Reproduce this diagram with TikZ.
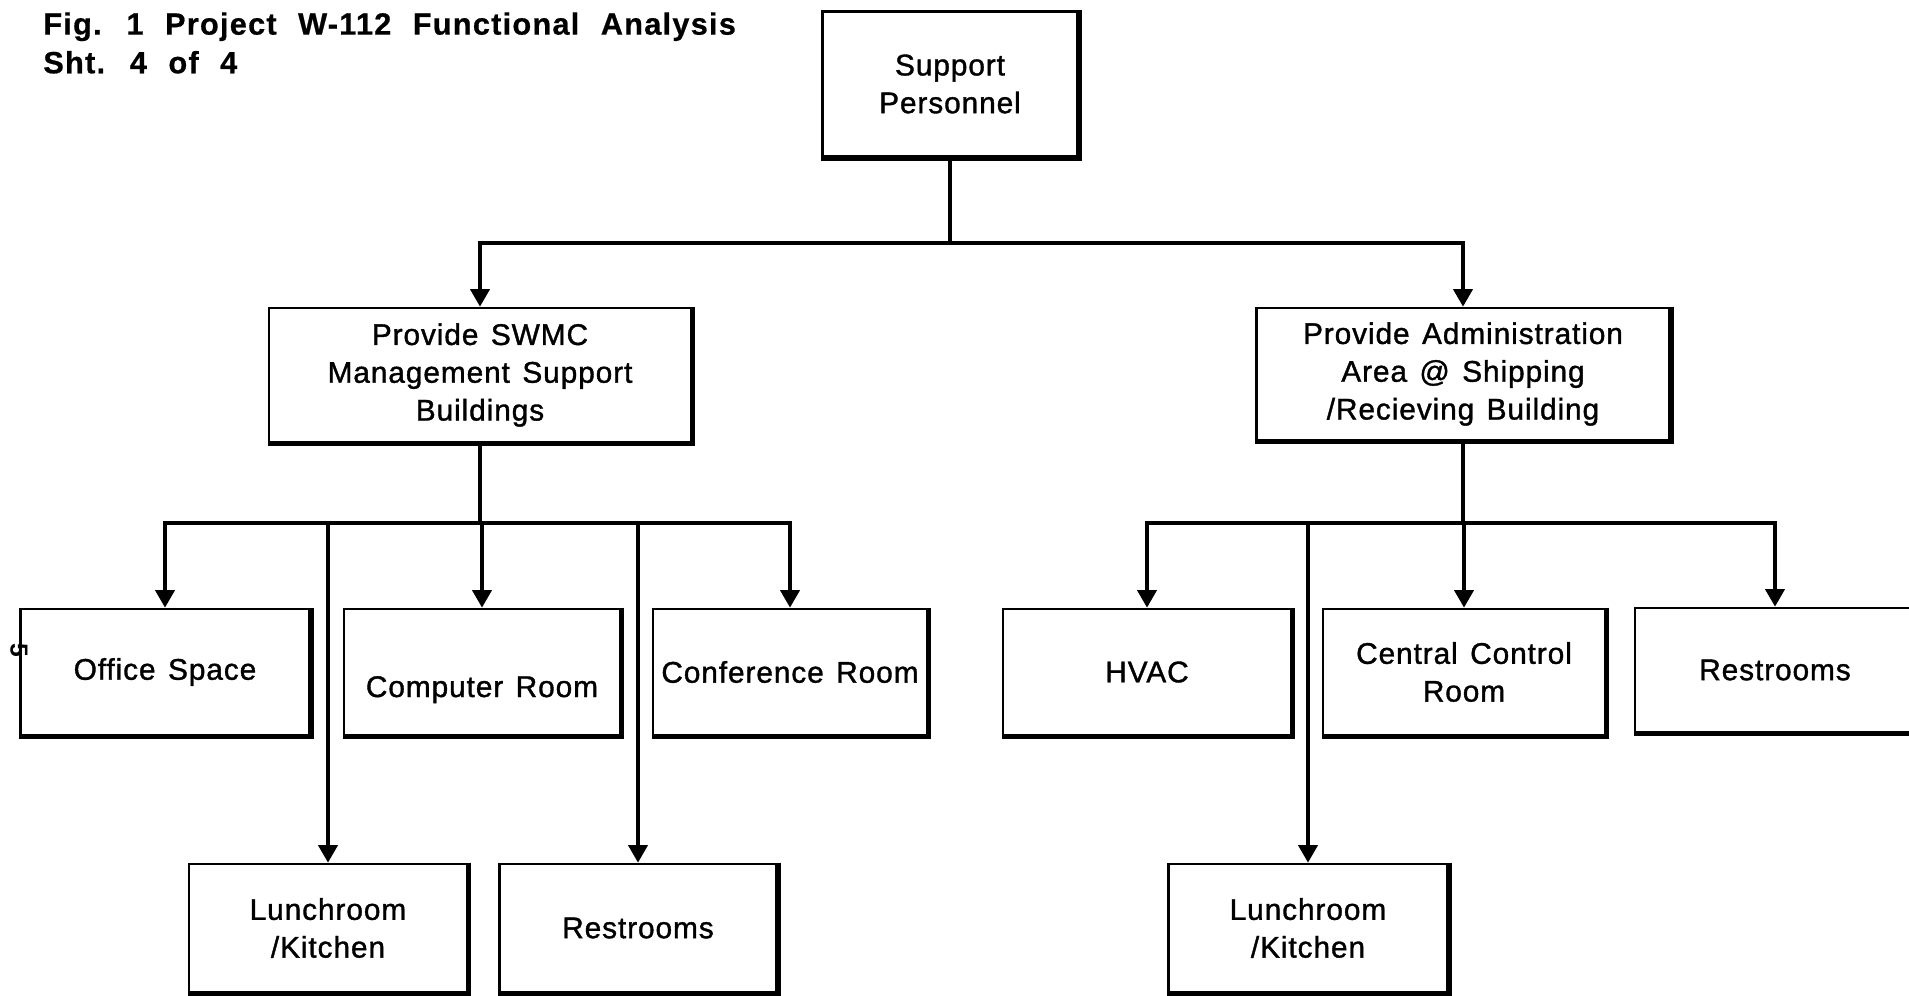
\documentclass[tikz,border=0pt]{standalone}
\usepackage{fontspec}
\setmainfont{Liberation Sans}
\newfontfamily\boxfont[LetterSpace=3,WordSpace=1.35,FakeBold=1.2]{Liberation Sans}
\newfontfamily\titlefont[LetterSpace=4,WordSpace=2.2,FakeBold=0.6]{Liberation Sans}
\usetikzlibrary{arrows.meta}
\tikzset{
  fbox/.style={draw, line width=1.6pt, align=center, inner sep=0pt,
    font=\boxfont\fontsize{17}{21.5}\selectfont},
  wire/.style={line width=1.8pt},
  arr/.style={wire, -{Triangle[length=10pt,width=11pt]}},
  shadowedge/.style={line width=3.2pt}
}
\begin{document}
\begin{tikzpicture}[x=0.02cm,y=-0.02cm]
    \useasboundingbox (0,0) rectangle (1909,995);
    \node[anchor=north west, align=left, inner sep=0pt,
      font=\titlefont\bfseries\fontsize{17.5}{22}\selectfont] (title) at (43,12)
      {Fig. 1 Project W-112 Functional Analysis\\Sht. 4 of 4};
    \node[rotate=-90, font=\bfseries\fontsize{14}{14}\selectfont] (pagemark) at (19,650) {5};
    \node[fbox, minimum width=5.1cm, minimum height=2.9cm] (support) at (950,84) {Support\\Personnel};
    \node[fbox, minimum width=8.44cm, minimum height=2.68cm] (swmc) at (480,375)
      {Provide SWMC\\Management Support\\Buildings};
    \node[fbox, minimum width=8.26cm, minimum height=2.64cm] (admin) at (1463,374)
      {Provide Administration\\Area @ Shipping\\/Recieving Building};
    \node[fbox, minimum width=5.78cm, minimum height=2.52cm] (office) at (165,672) {Office Space};
    \node[fbox, minimum width=5.52cm, minimum height=2.52cm, text height=1.1cm, text depth=0.1cm]
      (computer) at (482,672) {Computer Room};
    \node[fbox, minimum width=5.48cm, minimum height=2.52cm] (conference) at (790,672) {Conference Room};
    \node[fbox, minimum width=5.76cm, minimum height=2.52cm] (hvac) at (1147,672) {HVAC};
    \node[fbox, minimum width=5.64cm, minimum height=2.52cm] (control) at (1464,672) {Central Control\\Room};
    \node[fbox, minimum width=5.6cm, minimum height=2.48cm] (restB) at (1775,670) {Restrooms};
    \node[fbox, minimum width=5.56cm, minimum height=2.56cm] (lunchA) at (328,928) {Lunchroom\\/Kitchen};
    \node[fbox, minimum width=5.54cm, minimum height=2.56cm] (restA) at (638,928) {Restrooms};
    \node[fbox, minimum width=5.58cm, minimum height=2.56cm] (lunchB) at (1308,928) {Lunchroom\\/Kitchen};
    \foreach \n in {support,swmc,admin,office,computer,conference,hvac,control,restB,lunchA,restA,lunchB}
        \draw[shadowedge] (\n.north east) -- (\n.south east) -- (\n.south west);
    \coordinate (topbar) at (support.south |- 0,243);
    \coordinate (lbar) at (swmc.south |- 0,523);
    \coordinate (rbar) at (admin.south |- 0,523);
    \draw[wire] (support.south) -- (topbar);
    \draw[arr] (topbar) -| (swmc.north);
    \draw[arr] (topbar) -| (admin.north);
    \draw[wire] (swmc.south) -- (lbar);
    \foreach \n in {office,lunchA,computer,restA,conference}
        \draw[arr] (lbar) -| (\n.north);
    \draw[wire] (admin.south) -- (rbar);
    \foreach \n in {hvac,lunchB,control,restB}
        \draw[arr] (rbar) -| (\n.north);
\end{tikzpicture}
\end{document}
